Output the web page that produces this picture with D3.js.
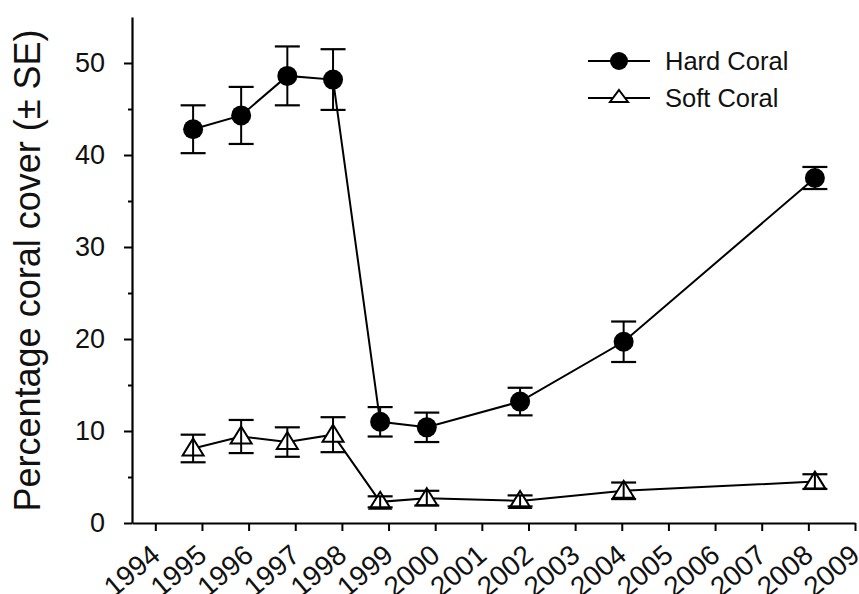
<!DOCTYPE html>
<html>
<head>
<meta charset="utf-8">
<script src="https://cdn.jsdelivr.net/npm/d3@7/dist/d3.min.js"></script>
<style>
  html, body { margin: 0; padding: 0; background: #fff; }
  svg text { font-family: "Liberation Sans", Arial, sans-serif; fill: #111; }
</style>
</head>
<body>
<svg id="chart" width="859" height="594"></svg>
<script>
// Survey dates (decimal years)
const surveyDates = [1994.81, 1995.84, 1996.83, 1997.81, 1998.82, 1999.82, 2001.82, 2004.04, 2008.14];
const hardCoral   = [42.8, 44.3, 48.6, 48.2, 11.0, 10.4, 13.2, 19.7, 37.5];
const hardCoralSE = [2.6, 3.1, 3.2, 3.3, 1.6, 1.6, 1.5, 2.2, 1.2];
const softCoral   = [8.1, 9.4, 8.8, 9.6, 2.3, 2.7, 2.4, 3.5, 4.5];
const softCoralSE = [1.5, 1.8, 1.6, 1.9, 0.6, 0.8, 0.6, 0.9, 0.8];
const yearTicks   = [1994, 1995, 1996, 1997, 1998, 1999, 2000, 2001, 2002, 2003, 2004, 2005, 2006, 2007, 2008, 2009];
const yMajorTicks = [0, 10, 20, 30, 40, 50];
const yMinorTicks = [5, 15, 25, 35, 45];
const seriesNames = ["Hard Coral", "Soft Coral"];
const yTitle = "Percentage coral cover (\u00B1 SE)";

const svg = d3.select("#chart");
const x = d3.scaleLinear().domain([1993.5, 2009]).range([132, 855]);
const y = d3.scaleLinear().domain([0, 55]).range([523, 17]);

const ink = "#000";

// Y axis
const yAxis = svg.append("g").attr("transform", `translate(${x.range()[0]},0)`)
  .call(d3.axisLeft(y).tickValues(yMajorTicks).tickSize(8).tickSizeOuter(0).tickPadding(19).tickFormat(d3.format("d")));
yAxis.select(".domain").attr("stroke", ink).attr("stroke-width", 2.2);
yAxis.selectAll(".tick line").attr("stroke", ink).attr("stroke-width", 2);
yAxis.selectAll(".tick text").style("font-size", "27px").attr("fill", "#111");
const yMinor = svg.append("g").attr("transform", `translate(${x.range()[0]},0)`)
  .call(d3.axisLeft(y).tickValues(yMinorTicks).tickSize(4).tickSizeOuter(0).tickFormat(""));
yMinor.select(".domain").remove();
yMinor.selectAll(".tick line").attr("stroke", ink).attr("stroke-width", 2);

// X axis
const xAxis = svg.append("g").attr("transform", `translate(0,${y.range()[0]})`)
  .call(d3.axisBottom(x).tickValues(yearTicks).tickSize(8).tickSizeOuter(0).tickFormat(d3.format("d")));
xAxis.select(".domain").attr("stroke", ink).attr("stroke-width", 2.2);
xAxis.selectAll(".tick line").attr("stroke", ink).attr("stroke-width", 2);
xAxis.selectAll(".tick text")
  .style("font-size", "28px")
  .attr("text-anchor", "end")
  .attr("x", 0).attr("y", 0).attr("dy", "0")
  .attr("transform", "translate(6,35) rotate(-40)");

// Y title
svg.append("text")
  .attr("transform", `translate(40,${(28 + 513) / 2}) rotate(-90)`)
  .attr("text-anchor", "middle")
  .style("font-size", "36px")
  .text(yTitle);

const line = d3.line().x(d => x(d.t)).y(d => y(d.v));
const hardData = surveyDates.map((t, i) => ({ t, v: hardCoral[i], se: hardCoralSE[i] }));
const softData = surveyDates.map((t, i) => ({ t, v: softCoral[i], se: softCoralSE[i] }));

function drawSeries(data, kind) {
  const g = svg.append("g");
  g.append("path").datum(data).attr("d", line)
    .attr("fill", "none").attr("stroke", ink).attr("stroke-width", 2);
  if (kind === "circle") {
    g.selectAll("circle").data(data).join("circle")
      .attr("cx", d => x(d.t)).attr("cy", d => y(d.v)).attr("r", 10).attr("fill", ink);
  } else {
    g.selectAll("path.tri").data(data).join("path").attr("class", "tri")
      .attr("d", d => {
        const cx = x(d.t), cy = y(d.v);
        return `M${cx},${cy - 10}L${cx + 10.5},${cy + 7}L${cx - 10.5},${cy + 7}Z`;
      })
      .attr("fill", "#fff").attr("stroke", ink).attr("stroke-width", 2);
  }
  const eb = g.selectAll("g.eb").data(data).join("g").attr("class", "eb");
  eb.append("line").attr("x1", d => x(d.t)).attr("x2", d => x(d.t))
    .attr("y1", d => y(d.v + d.se)).attr("y2", d => y(d.v - d.se))
    .attr("stroke", ink).attr("stroke-width", 2);
  eb.append("line").attr("x1", d => x(d.t) - 12.5).attr("x2", d => x(d.t) + 12.5)
    .attr("y1", d => y(d.v + d.se)).attr("y2", d => y(d.v + d.se))
    .attr("stroke", ink).attr("stroke-width", 2.2);
  eb.append("line").attr("x1", d => x(d.t) - 12.5).attr("x2", d => x(d.t) + 12.5)
    .attr("y1", d => y(d.v - d.se)).attr("y2", d => y(d.v - d.se))
    .attr("stroke", ink).attr("stroke-width", 2.2);
}
drawSeries(softData, "triangle");
drawSeries(hardData, "circle");

// Legend
const legend = svg.append("g");
const rows = [{ name: seriesNames[0], kind: "circle", yy: 61 }, { name: seriesNames[1], kind: "triangle", yy: 98 }];
rows.forEach(r => {
  legend.append("line").attr("x1", 588).attr("x2", 650).attr("y1", r.yy).attr("y2", r.yy)
    .attr("stroke", ink).attr("stroke-width", 2);
  if (r.kind === "circle") {
    legend.append("circle").attr("cx", 619).attr("cy", r.yy).attr("r", 9).attr("fill", ink);
  } else {
    legend.append("path").attr("d", `M619,${r.yy - 8}L628,${r.yy + 4}L610,${r.yy + 4}Z`)
      .attr("fill", "#fff").attr("stroke", ink).attr("stroke-width", 2);
  }
  legend.append("text").attr("x", 665).attr("y", r.yy).attr("dy", "0.35em")
    .style("font-size", "25.5px").text(r.name);
});
</script>
</body>
</html>
